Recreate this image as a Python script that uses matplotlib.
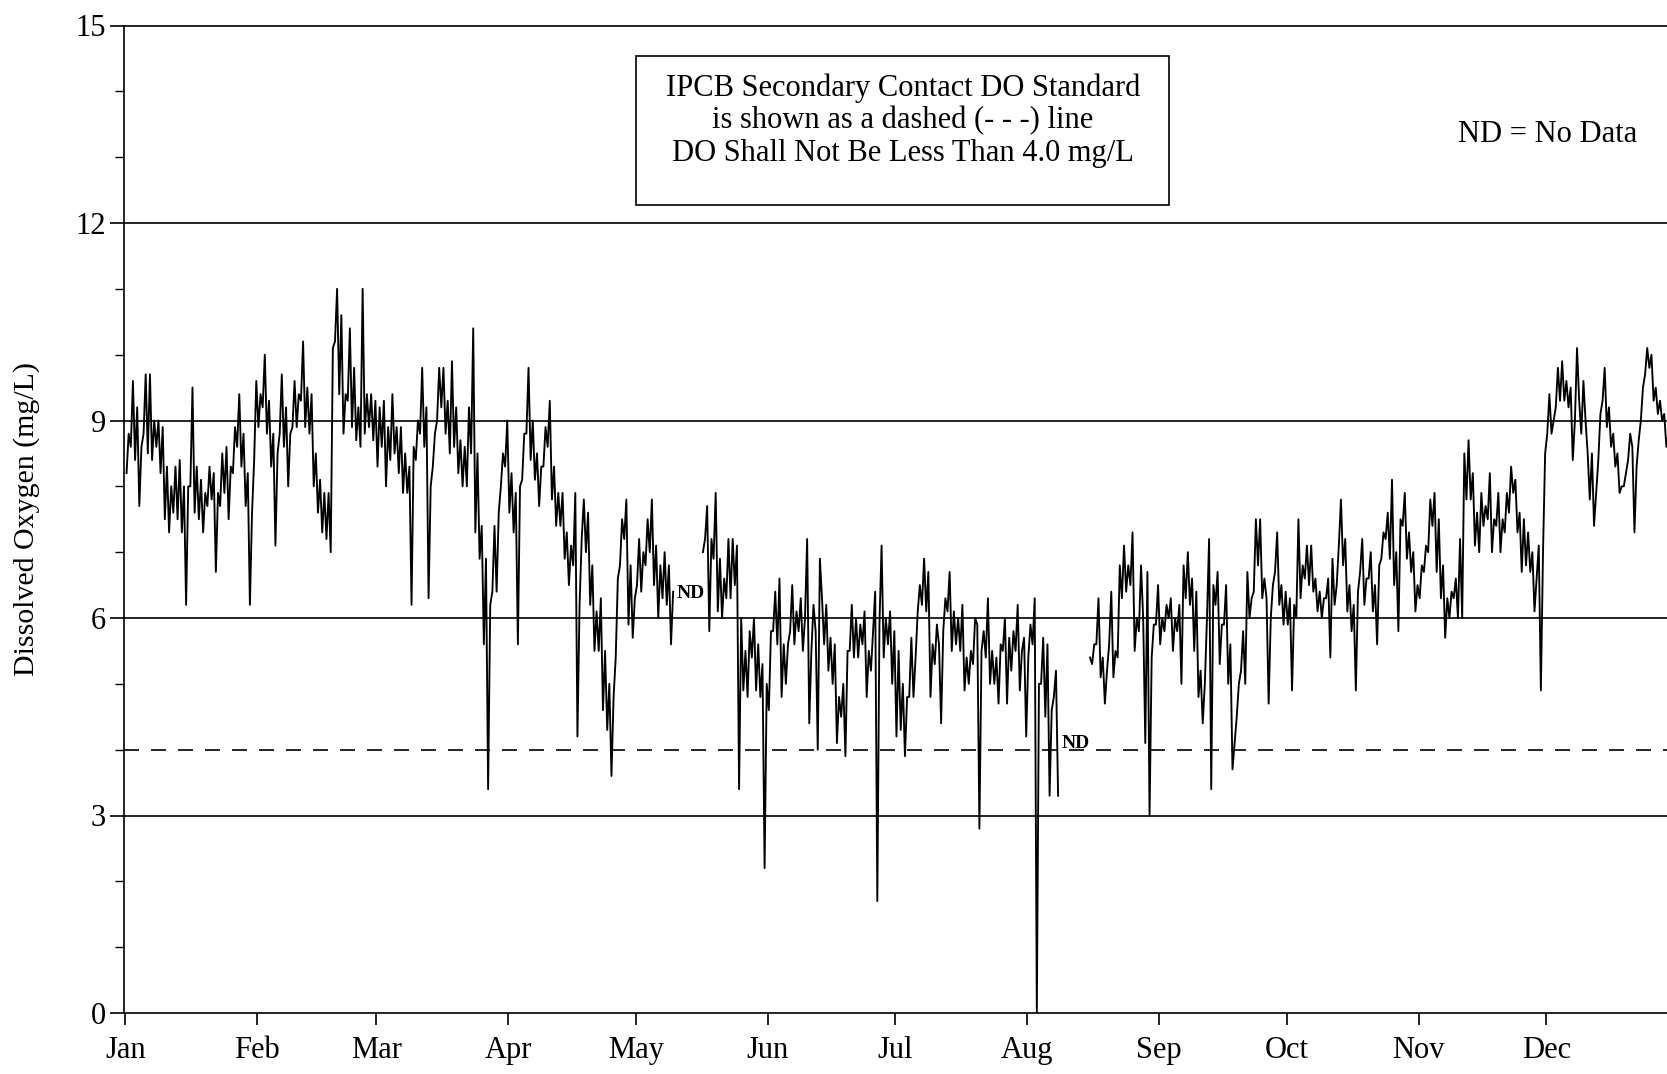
import numpy as np
import matplotlib
matplotlib.use("Agg")
import matplotlib.pyplot as plt
from matplotlib.patches import Rectangle

plt.rcParams['font.family'] = ['Liberation Serif', 'DejaVu Serif']

# Month labels and the day of year each month starts on
MONTHS = ['Jan', 'Feb', 'Mar', 'Apr', 'May', 'Jun',
          'Jul', 'Aug', 'Sep', 'Oct', 'Nov', 'Dec']
MONTH_START = [0, 31, 59, 90, 120, 151, 181, 212, 243, 273, 304, 334]

# Dissolved oxygen (mg/L): two readings per day (first half, second half of day).
# None marks missing data (ND).
NA = (None, None)

JAN = [(8.2, 8.8), (8.6, 9.6), (8.4, 9.2), (7.7, 8.6), (8.8, 9.7), (8.5, 9.7), (8.4, 9.0), (8.6, 9.0),
       (8.2, 8.9), (7.5, 8.3), (7.3, 8.0), (7.6, 8.3), (7.5, 8.4), (7.3, 8.0), (6.2, 8.0), (8.0, 9.5),
       (7.6, 8.3), (7.5, 8.1), (7.3, 7.9), (7.7, 8.3), (7.8, 8.2), (6.7, 7.9), (7.7, 8.5), (7.9, 8.6),
       (7.5, 8.3), (8.2, 8.9), (8.6, 9.4), (8.3, 8.8), (7.7, 8.2), (6.2, 7.6), (8.4, 9.6)]

FEB = [(8.9, 9.4), (9.2, 10.0), (8.8, 9.3), (8.3, 8.8), (7.1, 8.5), (8.8, 9.7), (8.6, 9.2), (8.0, 8.8),
       (8.9, 9.6), (8.9, 9.4), (9.3, 10.2), (8.9, 9.5), (8.8, 9.4), (8.0, 8.5), (7.6, 8.1), (7.3, 7.9),
       (7.2, 7.9), (7.0, 10.1), (10.2, 11.0), (9.4, 10.6), (8.8, 9.4), (9.3, 10.4), (8.9, 9.8), (8.7, 9.2),
       (8.6, 11.0), (8.8, 9.4), (8.9, 9.4), (8.7, 9.3)]

MAR = [(8.3, 9.2), (8.6, 9.3), (8.0, 8.9), (8.4, 9.4), (8.5, 8.9), (8.2, 8.9), (7.9, 8.5), (7.9, 8.3),
       (6.2, 8.6), (8.4, 9.0), (8.8, 9.8), (8.6, 9.2), (6.3, 8.0), (8.3, 8.8), (9.0, 9.8), (9.2, 9.8),
       (8.8, 9.3), (8.5, 9.9), (8.6, 9.2), (8.2, 8.7), (8.0, 8.6), (8.0, 9.2), (8.5, 10.4), (7.3, 8.5),
       (6.9, 7.4), (5.6, 6.9), (3.4, 6.2), (6.4, 7.4), (6.4, 7.6), (8.0, 8.5), (8.3, 9.0)]

APR = [(7.6, 8.2), (7.3, 7.9), (5.6, 8.0), (8.1, 8.8), (8.8, 9.8), (8.4, 9.0), (8.1, 8.5), (7.7, 8.3),
       (8.3, 8.9), (8.6, 9.3), (7.8, 8.3), (7.4, 7.9), (7.4, 7.9), (6.9, 7.3), (6.5, 7.1), (6.8, 7.9),
       (4.2, 6.2), (7.2, 7.8), (7.0, 7.6), (6.2, 6.8), (5.5, 6.1), (5.5, 6.3), (4.6, 5.5), (4.3, 5.0),
       (3.6, 4.8), (5.4, 6.6), (6.8, 7.5), (7.2, 7.8), (5.9, 6.8), (5.7, 6.3)]

MAY = [(6.5, 7.2), (6.4, 7.0), (6.8, 7.5), (7.0, 7.8), (6.5, 7.1), (6.0, 6.8), (6.3, 7.0), (6.2, 6.8),
       (5.6, 6.4), NA, NA, NA, NA, NA, NA, (None, 7.0),
       (7.2, 7.7), (5.8, 7.2), (6.9, 7.9), (6.1, 6.9), (6.0, 6.6), (6.3, 7.2), (6.3, 7.2), (6.5, 7.1),
       (3.4, 6.0), (4.9, 5.5), (4.8, 5.8), (5.4, 6.0), (4.9, 5.6), (4.8, 5.3), (2.2, 5.0)]

JUN = [(4.6, 5.8), (5.8, 6.4), (5.6, 6.6), (4.8, 5.6), (5.0, 5.6), (5.8, 6.5), (5.6, 6.1), (5.8, 6.3),
       (5.5, 6.0), (7.2, 4.4), (5.5, 6.2), (5.8, 4.0), (6.9, 6.3), (5.6, 6.2), (5.2, 5.7), (5.0, 5.6),
       (4.1, 4.8), (4.5, 5.0), (3.9, 5.5), (5.5, 6.2), (5.4, 6.0), (5.4, 5.9), (5.6, 6.1), (4.8, 5.5),
       (5.2, 5.8), (6.4, 1.7), (5.9, 7.1), (5.4, 6.0), (5.6, 6.1), (5.0, 5.8)]

JUL = [(4.2, 5.5), (4.3, 5.0), (3.9, 4.8), (4.8, 5.7), (4.8, 5.4), (6.1, 6.5), (6.2, 6.9), (6.1, 6.7),
       (4.8, 5.6), (5.3, 5.9), (5.6, 4.4), (5.8, 6.3), (6.1, 6.7), (5.5, 6.1), (5.6, 6.0), (5.5, 6.2),
       (4.9, 5.4), (5.0, 5.5), (5.3, 6.0), (5.9, 2.8), (5.5, 5.8), (5.4, 6.3), (5.0, 5.5), (5.0, 5.4),
       (4.7, 5.6), (5.5, 6.0), (4.7, 5.7), (5.2, 5.8), (5.5, 6.2), (4.9, 5.5), (5.7, 4.2)]

AUG = [(5.4, 5.9), (5.6, 6.3), (0.0, 5.0), (5.0, 5.7), (4.5, 5.6), (3.3, 4.6), (4.8, 5.2), (3.3, None),
       NA, NA, NA, NA, NA, NA, (None, 5.4),
       (5.3, 5.6), (5.6, 6.3), (5.1, 5.4), (4.7, 5.2), (5.6, 6.4), (5.1, 5.5), (5.4, 6.8), (6.3, 7.1),
       (6.4, 6.8), (6.5, 7.3), (5.5, 6.0), (5.8, 6.8), (6.0, 4.1), (6.7, 3.0), (5.4, 5.9), (5.9, 6.5)]

SEP = [(5.6, 6.0), (5.8, 6.2), (6.0, 6.3), (5.5, 6.0), (5.8, 6.2), (5.0, 6.8), (6.3, 7.0), (6.2, 6.6),
       (5.5, 6.4), (4.8, 5.2), (4.4, 5.0), (6.0, 7.2), (3.4, 6.5), (6.2, 6.7), (5.3, 5.9), (5.9, 6.5),
       (5.0, 5.6), (3.7, 4.1), (4.5, 5.0), (5.2, 5.8), (5.0, 6.7), (6.0, 6.3), (6.4, 7.5), (6.8, 7.5),
       (6.3, 6.6), (6.3, 4.7), (6.0, 6.5), (6.7, 7.3), (6.2, 6.5), (5.9, 6.4)]

OCT = [(5.9, 6.3), (4.9, 6.2), (6.0, 7.5), (6.3, 6.8), (6.6, 7.1), (6.5, 7.1), (6.4, 6.6), (6.1, 6.4),
       (6.0, 6.3), (6.3, 6.6), (5.4, 6.9), (6.2, 6.5), (7.1, 7.8), (6.8, 7.2), (6.1, 6.5), (5.8, 6.2),
       (4.9, 6.4), (6.7, 7.2), (6.2, 6.6), (6.6, 7.0), (6.1, 6.5), (5.6, 6.8), (6.9, 7.3), (7.2, 7.6),
       (6.9, 8.1), (6.5, 7.0), (5.8, 7.5), (7.4, 7.9), (6.9, 7.3), (6.7, 7.0), (6.1, 6.5)]

NOV = [(6.3, 6.8), (6.7, 7.1), (7.0, 7.8), (7.4, 7.9), (6.7, 7.5), (6.3, 6.8), (5.7, 6.3), (6.0, 6.4),
       (6.3, 6.6), (6.0, 7.2), (6.0, 8.5), (7.8, 8.7), (7.8, 8.2), (7.1, 7.6), (7.0, 7.9), (7.4, 7.7),
       (7.5, 8.2), (7.0, 7.5), (7.4, 7.9), (7.0, 7.5), (7.3, 7.9), (7.6, 8.3), (7.9, 8.1), (7.3, 7.6),
       (6.7, 7.5), (6.8, 7.3), (6.7, 7.0), (6.1, 6.6), (7.1, 4.9), (7.0, 8.5)]

DEC = [(8.8, 9.4), (8.8, 9.0), (9.2, 9.8), (9.3, 9.9), (9.3, 9.6), (9.2, 9.5), (8.4, 9.0), (10.1, 9.3),
       (8.8, 9.6), (9.0, 8.5), (7.8, 8.5), (7.4, 7.9), (8.4, 9.1), (9.3, 9.8), (8.9, 9.2), (8.6, 8.8),
       (8.3, 8.5), (7.9, 8.0), (8.0, 8.2), (8.4, 8.8), (8.6, 7.3), (8.3, 8.7), (9.0, 9.5), (9.7, 10.1),
       (9.8, 10.0), (9.3, 9.5), (9.1, 9.3), (9.0, 9.1), (8.6, 8.8)]

MONTHLY_DO = [JAN, FEB, MAR, APR, MAY, JUN, JUL, AUG, SEP, OCT, NOV, DEC]

# Horizontal reference levels and the state standard
GRID_LEVELS = [3, 6, 9, 12, 15]
DO_STANDARD = 4.0

BOX_LINES = ['IPCB Secondary Contact DO Standard',
             'is shown as a dashed (- - -) line',
             'DO Shall Not Be Less Than 4.0 mg/L']

# ND markers: (day of year, mg/L) where each data gap is labelled
ND_MARKS = [(132.9, 6.37), (223.4, 4.09)]

# Build the time axis (day of year) and value series
days, values = [], []
for start, month in zip(MONTH_START, MONTHLY_DO):
    for i, pair in enumerate(month):
        for frac, v in zip((0.25, 0.75), pair):
            days.append(start + i + frac)
            values.append(np.nan if v is None else v)
days = np.array(days)
values = np.array(values, dtype=float)

W, H = 1667, 1074
fig = plt.figure(figsize=(W / 100, H / 100), dpi=100)
ax = fig.add_axes([124 / W, 61 / H, 1 - 124 / W, (1013 - 25.5) / H])

ax.set_xlim(-0.35, 362.4)
ax.set_ylim(0, 15)

for lvl in GRID_LEVELS:
    ax.axhline(lvl, color='black', lw=1.2, clip_on=False, zorder=1)
ax.axhline(DO_STANDARD, color='black', lw=1.2, ls=(0, (9.0, 7.2)), zorder=1)

ax.plot(days, values, color='black', lw=1.35, zorder=3)

for spine in ('top', 'right'):
    ax.spines[spine].set_visible(False)
for spine in ('left', 'bottom'):
    ax.spines[spine].set_linewidth(1.2)

ax.set_yticks([0, 3, 6, 9, 12, 15])
ax.set_yticks(np.arange(0, 16, 1), minor=True)
ax.set_xticks(MONTH_START)
ax.set_xticklabels(MONTHS)
ax.tick_params(axis='y', which='major', length=10, width=1.2, pad=3,
               labelsize=22, direction='out')
ax.tick_params(axis='y', which='minor', length=6.5, width=1.0, direction='out')
ax.tick_params(axis='x', which='major', length=8.6, width=1.2, pad=8,
               labelsize=22, direction='out')

ax.set_ylabel('Dissolved Oxygen (mg/L)', fontsize=21.5, va='center')
ax.yaxis.set_label_coords((27 - 124) / (W - 124), 0.5)

# Explanatory box about the standard
fig.add_artist(Rectangle((636 / W, 1 - 205 / H), 533 / W, 149 / H,
                         transform=fig.transFigure, fill=True, fc='white',
                         ec='black', lw=1.2, zorder=5))
for line, y in zip(BOX_LINES, (88, 121, 154)):
    fig.text(903 / W, 1 - y / H, line, ha='center', va='center',
             fontsize=22, zorder=6)

fig.text(1548 / W, 1 - 135 / H, 'ND = No Data', ha='center', va='center',
         fontsize=22)

for d, v in ND_MARKS:
    ax.text(d, v, 'ND', fontsize=14, fontweight='bold', ha='center',
            va='center', zorder=4)

fig.savefig('out.png', dpi=100, facecolor='white')
